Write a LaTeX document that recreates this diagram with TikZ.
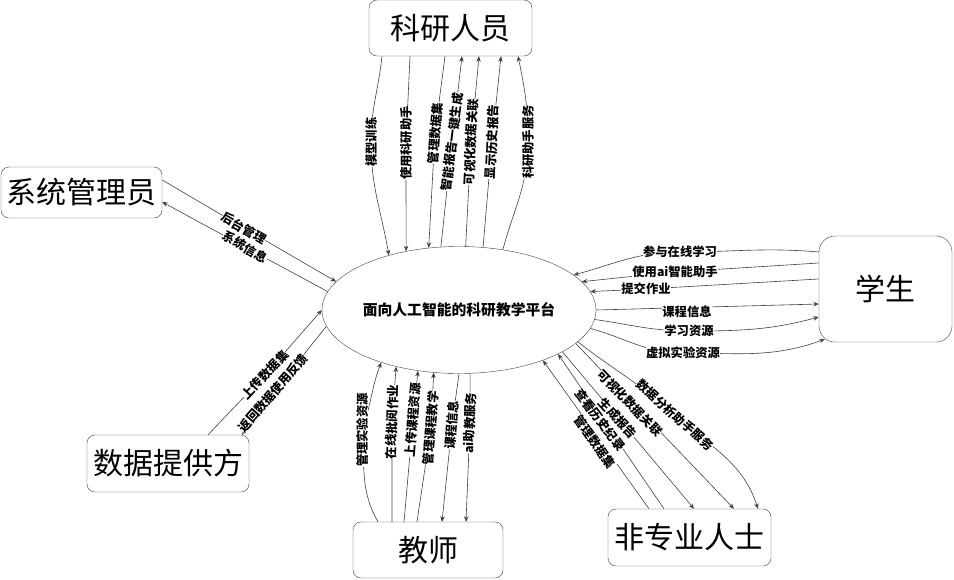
\documentclass[tikz,border=0pt]{standalone}
\usepackage{fontspec}
\setmainfont{Noto Sans CJK SC}
\usetikzlibrary{arrows.meta, backgrounds, shapes.geometric}
\definecolor{edge}{gray}{0.25}
\tikzset{
  actor/.style={draw=edge, fill=white, rounded corners=8pt, inner sep=0pt, font=\fontsize{30}{30}\selectfont},
  tag/.style={fill=white, inner sep=0pt, font=\fontsize{12.3}{12.3}\selectfont\bfseries},
  flow/.style={draw=edge, line width=0.6pt, -{Stealth[length=5.5pt, width=4.5pt]}}
}
\begin{document}
\begin{tikzpicture}[x=1pt, y=-1pt]
  \useasboundingbox (0, 0) rectangle (954, 579);

  % the platform and the people round it
  \node [draw=edge, ellipse, minimum width=274pt, minimum height=127pt, inner sep=0pt,
    font=\fontsize{14.8}{14.8}\selectfont\bfseries] (platform) at (459, 310) {面向人工智能的科研教学平台};
  \node [actor, minimum width=163pt, minimum height=56pt] (research) at (450.5, 28) {科研人员};
  \node [actor, minimum width=133pt, minimum height=106pt, rounded corners=16pt] (student) at (885.5, 289) {学生};
  \node [actor, minimum width=163pt, minimum height=57pt] (layman) at (689.5, 537.5) {非专业人士};
  \node [actor, minimum width=150pt, minimum height=56pt] (teacher) at (428, 550) {教师};
  \node [actor, minimum width=161pt, minimum height=51pt] (admin) at (81.5, 192.5) {系统管理员};
  \node [actor, minimum width=162pt, minimum height=57pt] (provider) at (168, 463.5) {数据提供方};

  % research staff
  \node [tag, rotate=90] (rs1) at (371, 142) {模型训练};
  \node [tag, rotate=90] (rs2) at (406, 143) {使用科研助手};
  \node [tag, rotate=85] (rs3) at (435, 133) {管理数据集};
  \node [tag, rotate=83] (rs4) at (452, 142) {智能报告一键生成};
  \node [tag, rotate=87] (rs5) at (471, 142) {可视化数据关联};
  \node [tag, rotate=87] (rs6) at (492, 142) {显示历史报告};
  \node [tag, rotate=90] (rs7) at (528, 142) {科研助手服务};
  \begin{scope}[on background layer]
    \draw [flow] ([xshift=-68.5pt]research.south) to[out=-96, in=90] (rs1.center) to[out=-90, in=100] (platform.142.9);
    \draw [flow] ([xshift=-40.5pt]research.south) -- (rs2.center) -- (platform.132);
    \draw [flow] ([xshift=-5.5pt]research.south) -- (rs3.center) -- (platform.116.2);
    \draw [flow] (platform.106.5) -- (rs4.center) -- ([xshift=11.5pt]research.south);
    \draw [flow] (platform.84.7) -- (rs5.center) -- ([xshift=28.5pt]research.south);
    \draw [flow] (platform.69.4) -- (rs6.center) -- ([xshift=50.5pt]research.south);
    \draw [flow] (platform.54.6) to[out=75, in=-90] (rs7.center) to[out=90, in=-78] ([xshift=67.5pt]research.south);
  \end{scope}

  % students
  \node [tag] (st1) at (680, 252) {参与在线学习};
  \node [tag] (st2) at (675, 272) {使用ai智能助手};
  \node [tag] (st3) at (646, 289) {提交作业};
  \node [tag] (st4) at (687, 312) {课程信息};
  \node [tag] (st5) at (689, 331) {学习资源};
  \node [tag] (st6) at (683, 353) {虚拟实验资源};
  \begin{scope}[on background layer]
    \draw [flow] ([yshift=37pt]student.west) to[out=175, in=0] (st1.center) to[out=180, in=15] (platform.17.7);
    \draw [flow] ([yshift=26pt]student.west) -- (st2.center) -- (platform.13.2);
    \draw [flow] ([yshift=10pt]student.west) -- (st3.center) -- (platform.8.6);
    \draw [flow] (platform.0.4) -- ([yshift=-15pt]student.west);
    \draw [flow] (platform.-4.2) to[out=-8, in=180] (st5.center) to[out=0, in=195] ([yshift=-28pt]student.west);
    \draw [flow] (platform.-8.1) to[out=-15, in=180] (st6.center) to[out=0, in=200] ([xshift=6pt, yshift=3pt]student.south west);
  \end{scope}

  % non-specialists
  \node [tag, rotate=-42] (ly1) at (675, 415) {数据分析助手服务};
  \node [tag, rotate=-46] (ly2) at (630, 403) {可视化数据关联};
  \node [tag, rotate=-47] (ly3) at (618, 418) {生成报告};
  \node [tag, rotate=-53] (ly4) at (600, 420) {查看历史纪录};
  \node [tag, rotate=-55] (ly5) at (595, 442) {管理数据集};
  \begin{scope}[on background layer]
    \draw [flow] (platform.-15) to[out=-38, in=138] (ly1.center) to[out=-42, in=108] ([xshift=68.5pt]layman.north);
    \draw [flow] (platform.-16.5) -- ([xshift=44.5pt]layman.north);
    \draw [flow] (platform.-22) -- ([xshift=4.5pt]layman.north);
    \draw [flow] ([xshift=-25.5pt]layman.north) -- (platform.-24.4);
    \draw [flow] ([xshift=-40.5pt]layman.north) -- (platform.-31.8);
  \end{scope}

  % teachers
  \node [tag, rotate=90] (te1) at (362, 430) {管理实验资源};
  \node [tag, rotate=88] (te2) at (392, 422) {在线批阅作业};
  \node [tag, rotate=85] (te3) at (413, 420) {上传课程资源};
  \node [tag, rotate=85] (te4) at (431, 428) {管理课程教学};
  \node [tag, rotate=85] (te5) at (452, 425) {课程信息};
  \node [tag, rotate=88] (te6) at (470, 423) {ai助教服务};
  \begin{scope}[on background layer]
    \draw [flow] ([xshift=-50pt]teacher.north) to[out=120, in=-85] (te1.center) to[out=70, in=-111] (platform.214.8);
    \draw [flow] ([xshift=-36pt]teacher.north) -- (te2.center) -- (platform.222.6);
    \draw [flow] ([xshift=-24pt]teacher.north) -- (te3.center) -- (platform.236.3);
    \draw [flow] ([xshift=-11pt]teacher.north) -- (te4.center) -- (platform.248.7);
    \draw [flow] (platform.270) -- (te5.center) -- ([xshift=14pt]teacher.north);
    \draw [flow] (platform.280.8) -- (te6.center) -- ([xshift=38pt]teacher.north);
  \end{scope}

  % admin and data provider
  \node [tag, rotate=-30] (ad1) at (244, 228) {后台管理};
  \node [tag, rotate=-30] (ad2) at (245, 247) {系统信息};
  \node [tag, rotate=47] (pr1) at (265, 375) {上传数据集};
  \node [tag, rotate=49] (pr2) at (273, 393) {返回数据使用反馈};
  \begin{scope}[on background layer]
    \draw [flow] ([yshift=12.5pt]admin.east) -- (ad1.center) -- (platform.167.8);
    \draw [flow] (platform.172.2) -- (ad2.center) -- ([yshift=-9.5pt]admin.east);
    \draw [flow] ([xshift=40pt]provider.north) -- (pr1.center) -- (platform.180);
    \draw [flow] (platform.187.8) -- (pr2.center) -- ([xshift=74pt]provider.north);
  \end{scope}
\end{tikzpicture}
\end{document}
